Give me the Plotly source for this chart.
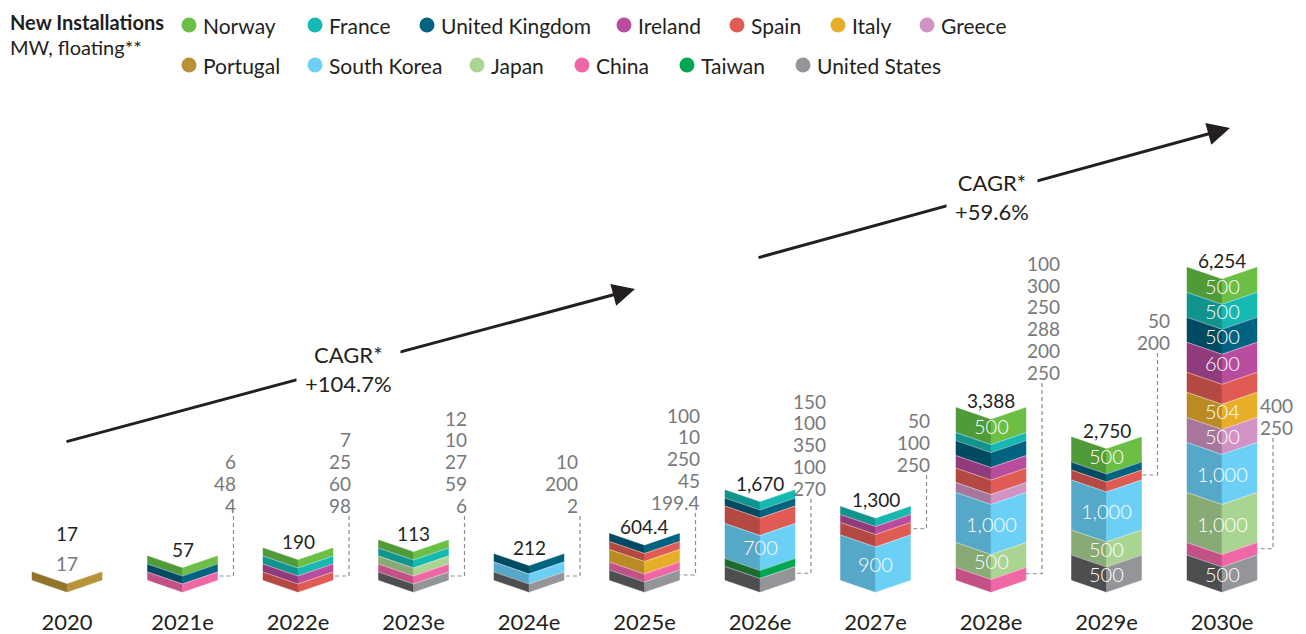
import plotly.graph_objects as go

# ---------------------------------------------------------------- data
years = ["2020", "2021e", "2022e", "2023e", "2024e", "2025e",
         "2026e", "2027e", "2028e", "2029e", "2030e"]
totals = [17, 57, 190, 113, 212, 604.4, 1670, 1300, 3388, 2750, 6254]

countries = ["Norway", "France", "United Kingdom", "Ireland", "Spain", "Italy",
             "Greece", "Portugal", "South Korea", "Japan", "China", "Taiwan",
             "United States"]

# new floating installations, MW (0 = none that year)
norway         = [0, 6, 7, 12, 0, 0, 0, 0, 500, 500, 500]
france         = [0, 0, 25, 10, 0, 0, 150, 50, 100, 0, 500]
united_kingdom = [0, 48, 0, 0, 10, 100, 100, 0, 300, 50, 500]
ireland        = [0, 0, 60, 0, 0, 0, 0, 100, 250, 0, 600]
spain          = [0, 0, 98, 0, 0, 10, 350, 250, 288, 200, 400]
italy          = [0, 0, 0, 0, 0, 250, 0, 0, 0, 0, 504]
greece         = [0, 0, 0, 0, 0, 0, 0, 0, 200, 0, 500]
portugal       = [17, 0, 0, 0, 0, 0, 0, 0, 0, 0, 0]
south_korea    = [0, 0, 0, 0, 200, 0, 700, 900, 1000, 1000, 1000]
japan          = [0, 0, 0, 27, 0, 0, 0, 0, 500, 500, 1000]
china          = [0, 4, 0, 59, 0, 45, 0, 0, 250, 0, 250]
taiwan         = [0, 0, 0, 0, 0, 0, 100, 0, 0, 0, 0]
united_states  = [0, 0, 0, 6, 2, 199.4, 270, 0, 0, 500, 500]

series = [norway, france, united_kingdom, ireland, spain, italy, greece,
          portugal, south_korea, japan, china, taiwan, united_states]

cagr_labels = ["CAGR*<br>+104.7%", "CAGR*<br>+59.6%"]

# --------------------------------------------------------------- styles
face_light = ["#6CBE45", "#16B9B1", "#00637F", "#B84D9F", "#E15B55", "#E8AE2A",
              "#D192C4", "#B8923A", "#6BCFF6", "#AAD491", "#F067A6", "#00A651",
              "#939598"]
face_dark = ["#509A38", "#11948D", "#004B62", "#8F3B7C", "#B44842", "#BA8B22",
             "#A7769D", "#917329", "#56A8C8", "#88AA74", "#C25285", "#1D6B30",
             "#4D4E50"]

FONT = "Lato"
INK = "#231F20"
NOTE_GREY = "#77787B"

FIG_W, FIG_H = 1306, 634
PLOT_H = 600                 # plotting area height (px), y-axis runs in px
PX_PER_UNIT = 115.5          # horizontal spacing between columns
X0_PX = 67                   # centre of the first column
HW = 35 / PX_PER_UNIT        # half column width
DIP = 12                     # depth of the chevron notch
BASE = 20                    # baseline of the column edges
LABEL_MIN = 500              # values from here on are printed inside

# side notes: horizontal offset from the column edge and baseline of last line
note_dx = [0, 20, 20, 20, 16, 22, 33, 21, 36, 30, 38]
note_y_px = [None, 505, 505, 505, 505, 502, 488, 464, 372, 342, 427]


def xd(px):
    return (px - X0_PX) / PX_PER_UNIT


def yd(py):
    return PLOT_H - py


def seg_height(v):
    return max(8.0, 0.05 * v)


def fmt(v):
    if isinstance(v, float) and not v.is_integer():
        return f"{v:,}"
    return f"{int(v):,}"


# ------------------------------------------------------------ geometry
stacks, tops = [], []
for j in range(len(years)):
    y = BASE
    segs = []
    for i in reversed(range(len(countries))):
        v = series[i][j]
        if v:
            h = seg_height(v)
            segs.append((i, y, y + h, v))
            y += h
    stacks.append(segs)
    tops.append(y)

fig = go.Figure()

for i, name in enumerate(countries):
    lx, ly, rx, ry = [], [], [], []
    for j, segs in enumerate(stacks):
        for (k, y0, y1, v) in segs:
            if k != i:
                continue
            cx = j
            lx += [cx - HW, cx, cx, cx - HW, cx - HW, None]
            ly += [y0, y0 - DIP, y1 - DIP, y1, y0, None]
            rx += [cx, cx + HW, cx + HW, cx, cx, None]
            ry += [y0 - DIP, y0, y1, y1 - DIP, y0 - DIP, None]
    for xs, ys, col in ((lx, ly, face_dark[i]), (rx, ry, face_light[i])):
        fig.add_trace(go.Scatter(
            x=xs, y=ys, mode="lines", fill="toself", fillcolor=col,
            line=dict(color=col, width=0.5), hoverinfo="skip",
            showlegend=False))

# faint seams between stacked segments
sx, sy = [], []
for j, segs in enumerate(stacks):
    for (k, y0, y1, v) in segs[:-1]:
        sx += [j - HW, j, j + HW, None]
        sy += [y1, y1 - DIP, y1, None]
fig.add_trace(go.Scatter(x=sx, y=sy, mode="lines",
                         line=dict(color="rgba(255,255,255,0.55)", width=0.8),
                         hoverinfo="skip", showlegend=False))

annotations = []

# values printed inside large segments
for j, segs in enumerate(stacks):
    for (k, y0, y1, v) in segs:
        if v >= LABEL_MIN:
            annotations.append(dict(
                x=j, y=(y0 + y1) / 2 - DIP / 2, text=fmt(v), showarrow=False,
                font=dict(family=FONT, size=20, color="white", weight=300),
                xanchor="center", yanchor="middle"))

# totals and side notes with dashed leaders
dx_, dy_ = [], []
for j, segs in enumerate(stacks):
    small = [s for s in reversed(segs) if s[3] < LABEL_MIN]
    if len(segs) == 1 and small:
        annotations.append(dict(
            x=j, y=tops[j] + 9, text=fmt(small[0][3]), showarrow=False,
            font=dict(family=FONT, size=19, color=NOTE_GREY),
            xanchor="center", yanchor="middle"))
        annotations.append(dict(
            x=j, y=tops[j] + 39, text=fmt(totals[j]), showarrow=False,
            font=dict(family=FONT, size=19, color=INK),
            xanchor="center", yanchor="middle"))
        continue
    annotations.append(dict(
        x=j, y=tops[j] + 7, text=fmt(totals[j]), showarrow=False,
        font=dict(family=FONT, size=19, color=INK),
        xanchor="center", yanchor="middle"))
    if not small:
        continue
    right = j + HW
    tx = right + note_dx[j] / PX_PER_UNIT
    yb = yd(note_y_px[j])
    n = len(small)
    for m, (k, y0, y1, v) in enumerate(small):
        annotations.append(dict(
            x=tx, y=yb + (n - 1 - m) * 21.7, text=fmt(v), showarrow=False,
            font=dict(family=FONT, size=19, color=NOTE_GREY),
            xanchor="right", yanchor="middle"))
    low = small[-1]
    ymid = (low[1] + low[2]) / 2
    xl = right + 16 / PX_PER_UNIT
    dx_ += [xl, xl, right, None]
    dy_ += [yb - 11, ymid, ymid, None]

fig.add_trace(go.Scatter(x=dx_, y=dy_, mode="lines",
                         line=dict(color="#8A8B8D", width=1.2, dash="4px,3px"),
                         hoverinfo="skip", showlegend=False))

# growth arrows with their CAGR captions
arrows = [((65, 442), (635, 289), (348, 369)),
          ((757, 258), (1230, 128), (992, 197))]
for (start, tip, mid), label in zip(arrows, cagr_labels):
    annotations.append(dict(
        x=xd(tip[0]), y=yd(tip[1]), ax=xd(start[0]), ay=yd(start[1]),
        axref="x", ayref="y", xref="x", yref="y", text="", showarrow=True,
        arrowhead=2, arrowsize=1.5, arrowwidth=3, arrowcolor=INK))
    annotations.append(dict(
        x=xd(mid[0]), y=yd(mid[1]), text=label, showarrow=False,
        font=dict(family=FONT, size=22, color=INK), bgcolor="white",
        borderpad=8, xanchor="center", yanchor="middle", align="center"))

# header and legend
annotations.append(dict(
    x=xd(8), y=yd(22), text="<b>New Installations</b>", showarrow=False,
    font=dict(family=FONT, size=20, color=INK), xanchor="left",
    yanchor="middle"))
annotations.append(dict(
    x=xd(8), y=yd(47), text="MW, floating**", showarrow=False,
    font=dict(family=FONT, size=20, color=INK), xanchor="left",
    yanchor="middle"))

legend_pos = [(189, 25), (315, 25), (427, 25), (624, 25), (737, 25), (838, 25),
              (927, 25), (189, 65), (315, 65), (477, 65), (582, 65), (687, 65),
              (803, 65)]
fig.add_trace(go.Scatter(
    x=[xd(p[0]) for p in legend_pos], y=[yd(p[1]) for p in legend_pos],
    mode="markers", marker=dict(size=15, color=face_light, line=dict(width=0)),
    hoverinfo="skip", showlegend=False))
for name, (px, py) in zip(countries, legend_pos):
    annotations.append(dict(
        x=xd(px + 12), y=yd(py), text=name, showarrow=False,
        font=dict(family=FONT, size=21, color=INK), xanchor="left",
        yanchor="middle"))

fig.update_layout(
    width=FIG_W, height=FIG_H,
    margin=dict(l=0, r=0, t=0, b=FIG_H - PLOT_H),
    paper_bgcolor="white", plot_bgcolor="white",
    showlegend=False, annotations=annotations,
    xaxis=dict(range=[xd(0), xd(FIG_W)], tickvals=list(range(len(years))),
               ticktext=years, showgrid=False, zeroline=False,
               showline=False, ticks="", ticklabelstandoff=7,
               tickfont=dict(family=FONT, size=22, color=INK), fixedrange=True),
    yaxis=dict(range=[0, PLOT_H], visible=False, fixedrange=True),
)

fig.write_html("out.html")
